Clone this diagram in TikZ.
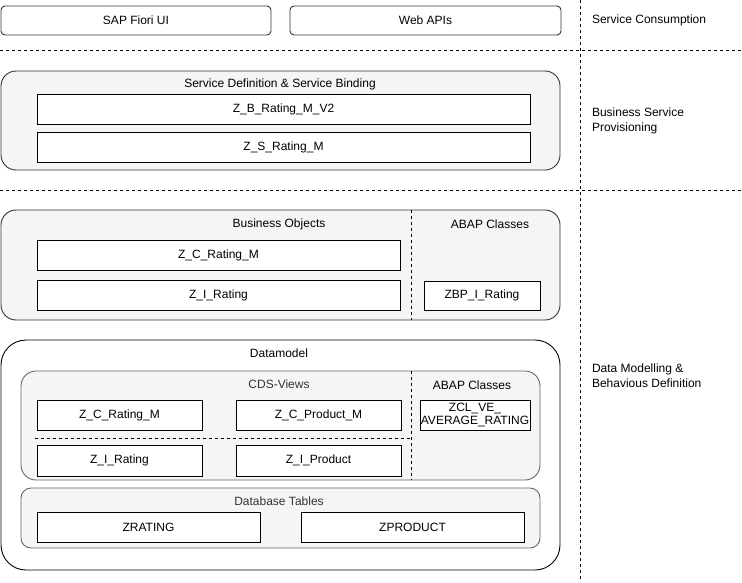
\documentclass[tikz,border=0pt]{standalone}
\usepackage{fontspec}
\setmainfont{Liberation Sans}
\definecolor{panel}{HTML}{F5F5F5}
\definecolor{pborder}{HTML}{666666}
\definecolor{ptext}{HTML}{333333}
\tikzset{
  every node/.style={font=\fontsize{12}{14}\selectfont, inner sep=0pt, outer sep=0pt},
  item/.style={draw=black, fill=white, line width=0.9pt, minimum width=#1},
  item/.default=100pt,
  toprect/.style={draw=black!80, fill=white, line width=0.9pt, rounded corners=4pt, minimum width=#1, minimum height=29pt},
  panelbox/.style={draw=black!80, fill=panel, line width=0.9pt},
  graypanel/.style={draw=pborder, fill=panel, line width=0.9pt},
  sep/.style={draw=black, line width=0.8pt, dash pattern=on 3pt off 3pt},
  lbl/.style={align=left, anchor=west},
  ttl/.style={anchor=center},
}
\begin{document}
\begin{tikzpicture}[x=1pt,y=-1pt]
\useasboundingbox (0,0) rectangle (742,582);

% separators
\coordinate (h1a) at (0,50); \coordinate (h1b) at (742,50);
\coordinate (h2a) at (0,190); \coordinate (h2b) at (742,190);
\coordinate (va) at (580,0); \coordinate (vb) at (580,582);
\draw[sep] (h1a) -- (h1b);
\draw[sep] (h2a) -- (h2b);
\draw[sep] (va) -- (vb);

% service consumption
\node[toprect=270pt] (sap) at (136,20.5) {SAP Fiori UI};
\node[toprect=271pt] (web) at (425.5,20.5) {Web APIs};

% service definition panel
\draw[panelbox, rounded corners=15pt] (1,71) rectangle (560,170);
\node[ttl] (sdtitle) at (280,84) {Service Definition \& Service Binding};
\node[item=493pt, minimum height=30pt] (zb) at (283.5,109) {Z\_B\_Rating\_M\_V2};
\node[item=493pt, minimum height=30pt] (zs) at (283.5,147) {Z\_S\_Rating\_M};

% business objects panel
\draw[panelbox, rounded corners=15pt] (1,210) rectangle (560,320);
\coordinate (bva) at (411,210); \coordinate (bvb) at (411,320);
\draw[sep] (bva) -- (bvb);
\node[ttl] (botitle) at (279,224) {Business Objects};
\node[ttl] (abap1) at (490,224) {ABAP Classes};
\node[item=363pt, minimum height=30pt] (zcr1) at (218.5,255) {Z\_C\_Rating\_M};
\node[item=363pt, minimum height=30pt] (zir1) at (218.5,295) {Z\_I\_Rating};
\node[item=116pt, minimum height=29pt] (zbp) at (482,295.5) {ZBP\_I\_Rating};

% datamodel
\draw[draw=black, fill=white, line width=0.9pt, rounded corners=25pt] (1,340) rectangle (560,570);
\node[ttl] (dmtitle) at (279,353) {Datamodel};

\draw[graypanel, rounded corners=15pt] (21,371) rectangle (540,480);
\coordinate (cva) at (411,371); \coordinate (cvb) at (411,480);
\coordinate (cha) at (35,438); \coordinate (chb) at (411,438);
\draw[sep] (cva) -- (cvb);
\draw[sep] (cha) -- (chb);
\node[ttl, text=ptext] (cdstitle) at (279,384) {CDS-Views};
\node[ttl] (abap2) at (472,385) {ABAP Classes};
\node[item=165pt, minimum height=30pt] (zcr2) at (119.5,415) {Z\_C\_Rating\_M};
\node[item=165pt, minimum height=30pt] (zcp) at (318.5,415) {Z\_C\_Product\_M};
\node[item=165pt, minimum height=31pt] (zir2) at (119.5,460.5) {Z\_I\_Rating};
\node[item=165pt, minimum height=31pt] (zip) at (318.5,460.5) {Z\_I\_Product};
\node[item=110pt, minimum height=30pt, align=center, font=\fontsize{12}{13}\selectfont] (zcl) at (475,415) {ZCL\_VE\_\\AVERAGE\_RATING};

\draw[graypanel, rounded corners=10pt] (21,488) rectangle (540,548);
\node[ttl, text=ptext] (dbtitle) at (279,501) {Database Tables};
\node[item=223pt, minimum height=30pt] (zr) at (148.5,527) {ZRATING};
\node[item=223pt, minimum height=30pt] (zp) at (412.5,527) {ZPRODUCT};

% right labels
\node[lbl] (lsc) at (592,20) {Service Consumption};
\node[lbl, font=\fontsize{12}{15}\selectfont] (lbs) at (592,120.5) {Business Service\\Provisioning};
\node[lbl, font=\fontsize{12}{15}\selectfont] (ldm) at (592,375.5) {Data Modelling \&\\Behavious Definition};
\end{tikzpicture}
\end{document}
